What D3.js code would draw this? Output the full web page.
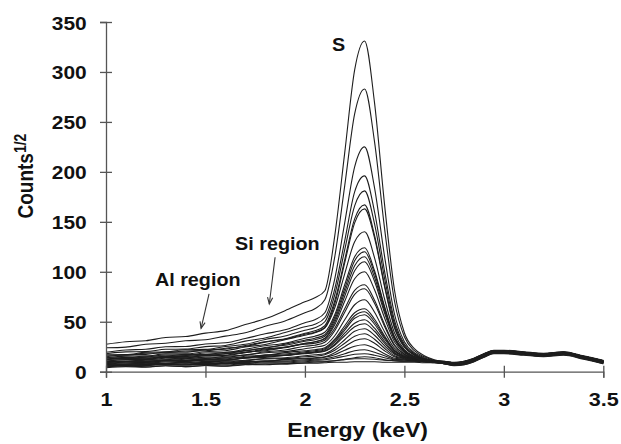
<!DOCTYPE html>
<html>
<head>
<meta charset="utf-8">
<script src="https://cdn.jsdelivr.net/npm/d3@7"></script>
<style>
  html, body { margin: 0; padding: 0; background: #fff; }
  svg { display: block; }
  text { font-family: "Liberation Sans", Arial, sans-serif; font-weight: bold; fill: #111; }
</style>
</head>
<body>
<svg id="chart" width="621" height="444"></svg>
<script>
// Energy grid (keV) shared by every spectrum
const energyKeV = [1.0, 1.1, 1.2, 1.3, 1.4, 1.5, 1.6, 1.7, 1.8, 1.9,
                   2.0, 2.05, 2.1, 2.15, 2.2, 2.25, 2.3, 2.35, 2.4, 2.45, 2.5, 2.55, 2.6, 2.65, 2.7,
                   2.75, 2.8, 2.85, 2.9, 2.95, 3.0, 3.1, 3.2, 3.3, 3.4, 3.5];

// Square-root counts for each measured spectrum
const spectrum01 = [27.5, 30, 31, 34.2, 35.2, 38.6, 41.1, 47.2, 52.9, 61.1, 70, 74, 81, 136, 219, 302, 331, 269, 168, 82, 39, 23, 16, 12, 10, 8.5, 9.5, 12.5, 17, 20.5, 20, 18.5, 17.5, 19, 15, 10.5];
const spectrum02 = [23.9, 24.6, 27.4, 28.4, 30.9, 31.9, 35.6, 39, 45.5, 50.8, 59, 63, 72, 115, 186, 258, 283, 230, 144, 71, 35, 21, 15, 11.5, 9.5, 7.5, 8.5, 11.5, 16, 19.5, 19.5, 18, 16.5, 18, 14, 9.5];
const spectrum03 = [19.5, 21.7, 22.4, 24.9, 25.2, 27.8, 28.9, 33.2, 37.9, 41.9, 49, 52, 59, 93, 149, 205, 225, 184, 116, 58, 30, 19, 14, 11, 10.5, 9, 10, 13, 17.5, 21, 21, 19.5, 18, 19.5, 15.5, 11];
const spectrum04 = [18, 19.8, 20.1, 22.4, 22.6, 25.1, 26.3, 30.6, 33.8, 39.2, 45, 47.5, 54, 83, 131, 180, 196, 160, 101, 51.5, 27.5, 18, 13, 11, 9.5, 8, 9, 12, 16.5, 20, 20, 18.5, 17, 18.5, 14.5, 10];
const spectrum05 = [16.9, 17.1, 19.4, 19.9, 21.9, 22.3, 25.2, 27.4, 32.3, 35.8, 41.5, 44, 50, 77, 122, 166, 181, 148, 94, 48, 26, 17, 13, 10.5, 8.5, 7, 8, 11, 15.5, 19, 19, 17.5, 16, 17.5, 13.5, 9];
const spectrum06 = [15, 16.9, 17.3, 19.6, 19.6, 21.9, 22.6, 26.2, 30, 33, 38.5, 41, 46, 71, 112, 153, 167, 136.5, 87, 45, 25, 17, 13, 10.5, 10, 8.5, 9.5, 12.5, 17, 20.5, 20.5, 19, 17.5, 19, 15, 10.5];
const spectrum07 = [14, 15.6, 15.7, 17.8, 17.8, 20, 21, 24.7, 27.3, 32, 36.5, 39, 44, 68, 109, 149, 163, 134, 85.5, 44, 24.5, 16.5, 12.5, 10.5, 9, 7.5, 8.5, 11.5, 16, 19.5, 19.5, 18, 16.5, 18, 14, 9.5];
const spectrum08 = [16.4, 16.4, 18.6, 18.9, 20.7, 20.9, 23.5, 25.3, 29.6, 32.5, 37.5, 39.5, 44, 64, 98, 130, 140, 114, 73, 39, 22, 15.5, 12.5, 11, 10.5, 9, 10, 13, 17.5, 21, 21, 19.5, 18, 19.5, 15.5, 11];
const spectrum09 = [12.5, 14.3, 14.6, 16.7, 16.6, 18.7, 19.2, 22.5, 25.9, 28.5, 33.5, 35.5, 39.5, 57, 87, 115, 124, 101, 65.5, 35, 21, 15, 12, 10.5, 9.5, 8, 9, 12, 16.5, 20, 20, 18.5, 17, 18.5, 14.5, 10];
const spectrum10 = [12, 13.5, 13.4, 15.4, 15.2, 17.2, 18, 21.3, 23.5, 27.6, 31.5, 33.5, 37, 54.5, 83, 111, 120, 98.5, 64, 34.5, 20.5, 15, 12, 10, 8.5, 7, 8, 11, 15.5, 19, 19, 17.5, 16, 17.5, 13.5, 9];
const spectrum11 = [13.9, 13.7, 15.7, 15.7, 17.3, 17.2, 19.5, 20.7, 24.3, 26.4, 30.5, 32, 35.5, 52, 79.5, 106, 115, 94.5, 61.5, 33.5, 20, 14.5, 12, 10.5, 10, 8.5, 9.5, 12.5, 17, 20.5, 20.5, 19, 17.5, 19, 15, 10.5];
const spectrum12 = [10.5, 12.2, 12.3, 14.3, 14, 15.9, 16.2, 19.1, 22, 24.1, 28.5, 30, 33.5, 49.5, 75.5, 101, 110, 90.5, 59, 32.5, 20, 14.5, 12, 10, 9.5, 8, 9, 12.5, 17, 20.5, 20, 18.5, 17, 19, 14.5, 10];
const spectrum13 = [12, 13.3, 13, 14.8, 14.4, 16.2, 16.6, 19.5, 21, 24.4, 27.5, 28.5, 31.5, 43.5, 63, 81.5, 87, 71.5, 47.5, 27, 17.5, 13.5, 11.5, 9.5, 8.5, 7.5, 8.5, 11.5, 16, 19.5, 19.5, 18, 16.5, 18, 14, 9.5];
const spectrum14 = [10.4, 10.2, 12, 12, 13.5, 13.3, 15.5, 16.5, 19.9, 21.7, 25.5, 26.5, 29.5, 41, 59.5, 77.5, 83, 68.5, 45.5, 26, 17.5, 13.5, 11.5, 10.5, 10, 9, 10, 13, 17.5, 21, 21, 19.5, 18, 19.5, 15.5, 11];
const spectrum15 = [10.5, 11.9, 11.8, 13.5, 13, 14.6, 14.5, 16.8, 18.9, 20.1, 23, 24.5, 26.5, 36, 52, 67, 72, 59.5, 40, 23.5, 16.5, 13, 11, 9.5, 8, 7, 8, 11, 15.5, 19, 19, 17.5, 16, 17.5, 13.5, 9];
const spectrum16 = [9.5, 10.6, 10.2, 11.7, 11.2, 12.8, 12.9, 15.4, 16.3, 19.1, 21, 22, 24, 32.5, 46, 59, 63, 52.5, 36, 21.5, 15.5, 12.5, 11, 10, 9.5, 8.5, 9.5, 12.5, 17, 20.5, 20.5, 19, 17.5, 19, 15, 10.5];
const spectrum17 = [10.4, 10, 11.6, 11.2, 12.5, 12, 13.8, 14.2, 16.8, 17.7, 20, 21, 23, 31, 43.5, 56, 60, 50, 34.5, 21, 15.5, 12.5, 11, 10, 9, 8, 9, 12, 16.5, 20, 20, 18.5, 17, 18.5, 14.5, 10];
const spectrum18 = [8, 9.4, 9.2, 10.8, 10.2, 11.7, 11.5, 13.6, 15.5, 16.4, 19, 20, 22, 29.5, 41.5, 53.5, 57, 47.5, 33, 20.5, 15, 12.5, 11, 9.5, 8.5, 7.5, 8.5, 11.5, 16, 19.5, 19.5, 18, 16.5, 18, 14, 9.5];
const spectrum19 = [9, 10, 9.5, 10.9, 10.2, 11.6, 11.6, 13.7, 14.3, 16.6, 18, 19, 20.5, 26.5, 36, 45, 48, 40.5, 28.5, 18.5, 14.5, 12, 11, 10.5, 10, 9, 10, 13, 17.5, 21, 21, 19.5, 18, 19.5, 15.5, 11];
const spectrum20 = [7.9, 7.4, 8.9, 8.5, 9.7, 9.1, 10.8, 11, 13.4, 14, 16, 17, 18, 23.5, 32, 40.5, 43, 36.5, 26, 17.5, 14, 12, 10.5, 9.5, 8, 7, 8, 11, 15.5, 19, 19, 17.5, 16, 17.5, 13.5, 9];
const spectrum21 = [7.5, 8.7, 8.4, 9.8, 9, 10.3, 9.8, 11.5, 12.8, 13.1, 15, 15.5, 17, 21.5, 28.5, 35.5, 38, 32.5, 23.5, 16, 13.5, 11.5, 10.5, 10, 9.5, 8.5, 9.5, 12.5, 17, 20.5, 20.5, 19, 17.5, 19, 15, 10.5];
const spectrum22 = [7, 7.9, 7.2, 8.4, 7.6, 8.9, 8.5, 10.4, 10.4, 12.2, 13, 13.5, 14.5, 17, 21.5, 25.5, 27, 23.5, 18, 13.5, 12.5, 11, 10.5, 9.5, 9, 8, 9, 12, 16.5, 20, 20, 18.5, 17, 18.5, 14.5, 10];
const spectrum23 = [6.9, 6.2, 7.5, 6.9, 7.9, 7.1, 8.4, 8.2, 9.9, 9.8, 11, 11.5, 12, 13.5, 15.5, 17.5, 18, 16.5, 14, 12, 11.5, 11, 10, 9.5, 8.5, 7.5, 8.5, 11.5, 16, 19.5, 19.5, 18, 16.5, 18, 14, 9.5];
const spectrum24 = [5.5, 6.6, 6.1, 7.3, 6.4, 7.5, 6.8, 8.1, 9, 8.7, 10, 10.5, 10.5, 11, 12, 13, 13, 12.5, 11.5, 11, 10.5, 10.5, 10, 9.5, 9.5, 8.5, 9.5, 12.5, 17, 20.5, 20.5, 19, 17.5, 19, 15, 10.5];
const spectrum25 = [5, 5.8, 4.9, 6, 5.1, 6.2, 5.7, 7.2, 6.9, 8.2, 8.5, 8.5, 9, 9.5, 9.5, 10, 10, 10, 9.5, 9.5, 9.5, 9.5, 9, 9, 8.5, 7.5, 8.5, 11.5, 16, 19.5, 19.5, 18, 16.5, 18, 14, 9.5];
const spectrum26 = [12.9, 12.7, 14.6, 14.5, 16.1, 15.9, 18.2, 19.2, 22.7, 24.6, 28.3, 29.8, 33, 47, 70.5, 93, 100, 82, 54, 30, 19, 14, 11.5, 10, 8, 6, 7, 10, 14.5, 18, 18, 16.5, 15, 16.5, 12.5, 8];
const spectrum27 = [9, 10.3, 10.1, 11.6, 10.9, 12.3, 12, 13.9, 15.6, 16.2, 18.5, 19.5, 21, 27.5, 38.5, 48.5, 52, 43.5, 30.5, 19, 14.5, 12, 10.5, 9.5, 10, 9.5, 10.5, 13.5, 18, 21.5, 21.5, 20, 18.5, 20, 16, 11.5];
const spectrum28 = [6, 6.9, 6.3, 7.6, 6.9, 8.3, 8.1, 10.1, 10.4, 12.4, 13.5, 14, 15, 19, 25, 31, 33, 28.5, 21, 15, 13, 11.5, 10.5, 9.5, 8, 6.5, 7.5, 10.5, 15, 18.5, 18.5, 17, 15.5, 17, 13, 8.5];
const spectrum29 = [7.9, 7.2, 8.5, 7.9, 8.9, 8.1, 9.4, 9.2, 10.9, 10.8, 12, 12.5, 13, 15, 18, 21, 22, 19.5, 16, 12.5, 12, 11, 10, 9.5, 9.5, 9, 10.5, 13.5, 18, 21, 20.5, 19, 18, 20, 15, 11];
const spectrum30 = [4, 5.1, 4.6, 5.9, 5, 6.2, 5.4, 6.9, 7.8, 7.6, 9, 9.5, 10, 11, 12.5, 14, 15, 14, 12, 11, 10.5, 10.5, 10, 9, 8, 6.5, 7, 10, 14.5, 18.5, 18.5, 17.5, 15.5, 17.5, 13.5, 8];

const spectra = [spectrum01, spectrum02, spectrum03, spectrum04, spectrum05, spectrum06, spectrum07, spectrum08,
                 spectrum09, spectrum10, spectrum11, spectrum12, spectrum13, spectrum14, spectrum15, spectrum16,
                 spectrum17, spectrum18, spectrum19, spectrum20, spectrum21, spectrum22, spectrum23, spectrum24,
                 spectrum25, spectrum26, spectrum27, spectrum28, spectrum29, spectrum30];

// Axis ticks
const xTicks = [1, 1.5, 2, 2.5, 3, 3.5];
const xTickLabels = ["1", "1.5", "2", "2.5", "3", "3.5"];
const yTicks = [0, 50, 100, 150, 200, 250, 300, 350];

// Annotations (data units)
const peakLabel = { text: "S", e: 2.136, v: 321 };
const regionLabels = [
  { text: "Si region", e: 1.649, v: 122.3, from: [1.850, 114.5], to: [1.821, 67.8] },
  { text: "Al region", e: 1.246, v: 85.8, from: [1.518, 77.8], to: [1.478, 43.4] }
];

const W = 621, H = 444;
const margin = { top: 22, right: 17.7, bottom: 72.3, left: 106 };
const svg = d3.select("#chart");

const x = d3.scaleLinear().domain([1, 3.5]).range([margin.left, W - margin.right]);
const y = d3.scaleLinear().domain([0, 350]).range([H - margin.bottom, margin.top]);

// Spectra
const line = d3.line()
  .x((d, i) => x(energyKeV[i]))
  .y(d => y(d))
  .curve(d3.curveMonotoneX);

svg.append("g")
  .selectAll("path")
  .data(spectra)
  .join("path")
  .attr("d", line)
  .attr("fill", "none")
  .attr("stroke", "#1e1e1e")
  .attr("stroke-width", 1.1)
  .attr("stroke-linejoin", "round");

// Axes
const axisColor = "#555";
const yAxis = svg.append("g")
  .attr("transform", `translate(${margin.left},0)`)
  .call(d3.axisLeft(y).tickValues(yTicks).tickSizeOuter(0).tickSize(6));
yAxis.select(".domain").attr("stroke", axisColor).attr("stroke-width", 1.3);
yAxis.selectAll(".tick line").attr("x1", 6).attr("x2", -6).attr("stroke", axisColor).attr("stroke-width", 1.3);
yAxis.selectAll(".tick text")
  .attr("x", null).attr("dy", null)
  .attr("text-anchor", "end")
  .attr("font-size", 19)
  .attr("transform", "translate(-19.3,7) scale(1.1,1)");

const xAxis = svg.append("g")
  .attr("transform", `translate(0,${H - margin.bottom})`)
  .call(d3.axisBottom(x).tickValues(xTicks).tickFormat((d, i) => xTickLabels[i]).tickSizeOuter(0).tickSize(6));
xAxis.select(".domain").attr("stroke", axisColor).attr("stroke-width", 1.3);
xAxis.selectAll(".tick line").attr("y1", -6).attr("y2", 6).attr("stroke", axisColor).attr("stroke-width", 1.3);
xAxis.selectAll(".tick text")
  .attr("y", null).attr("dy", null)
  .attr("text-anchor", "middle")
  .attr("font-size", 18)
  .attr("transform", "translate(0,34.3) scale(1.2,1)");
svg.selectAll(".tick text").attr("fill", "#111").style("font-family", "'Liberation Sans', Arial, sans-serif").style("font-weight", "bold");

// Axis titles
svg.append("text")
  .attr("text-anchor", "middle")
  .attr("font-size", 19.5)
  .attr("transform", `translate(${(x(1) + x(3.5)) / 2 + 3},436.5) scale(1.18,1)`)
  .text("Energy (keV)");

const yTitle = svg.append("text")
  .attr("transform", "translate(33,218.5) rotate(-90) scale(1,1.15)")
  .attr("font-size", 19);
yTitle.append("tspan").text("Counts");
yTitle.append("tspan").attr("font-size", 14).attr("dy", -6).text("1/2");

// Annotations
svg.append("text")
  .attr("font-size", 17.5)
  .attr("transform", `translate(${x(peakLabel.e)},${y(peakLabel.v)}) scale(1.13,1)`)
  .text(peakLabel.text);

regionLabels.forEach(r => {
  svg.append("text")
    .attr("font-size", 17.5)
    .attr("transform", `translate(${x(r.e)},${y(r.v)}) scale(1.13,1)`)
    .text(r.text);
  const x0 = x(r.from[0]), y0 = y(r.from[1]), x1 = x(r.to[0]), y1 = y(r.to[1]);
  svg.append("line")
    .attr("x1", x0).attr("y1", y0).attr("x2", x1).attr("y2", y1)
    .attr("stroke", "#333").attr("stroke-width", 1.1);
  const ang = Math.atan2(y1 - y0, x1 - x0);
  const len = 7, spread = 0.38;
  const head = [ang + Math.PI - spread, ang + Math.PI + spread]
    .map(a => [x1 + len * Math.cos(a), y1 + len * Math.sin(a)]);
  svg.append("path")
    .attr("d", `M${head[0][0]},${head[0][1]}L${x1},${y1}L${head[1][0]},${head[1][1]}`)
    .attr("fill", "none").attr("stroke", "#333").attr("stroke-width", 1.1);
});
</script>
</body>
</html>
